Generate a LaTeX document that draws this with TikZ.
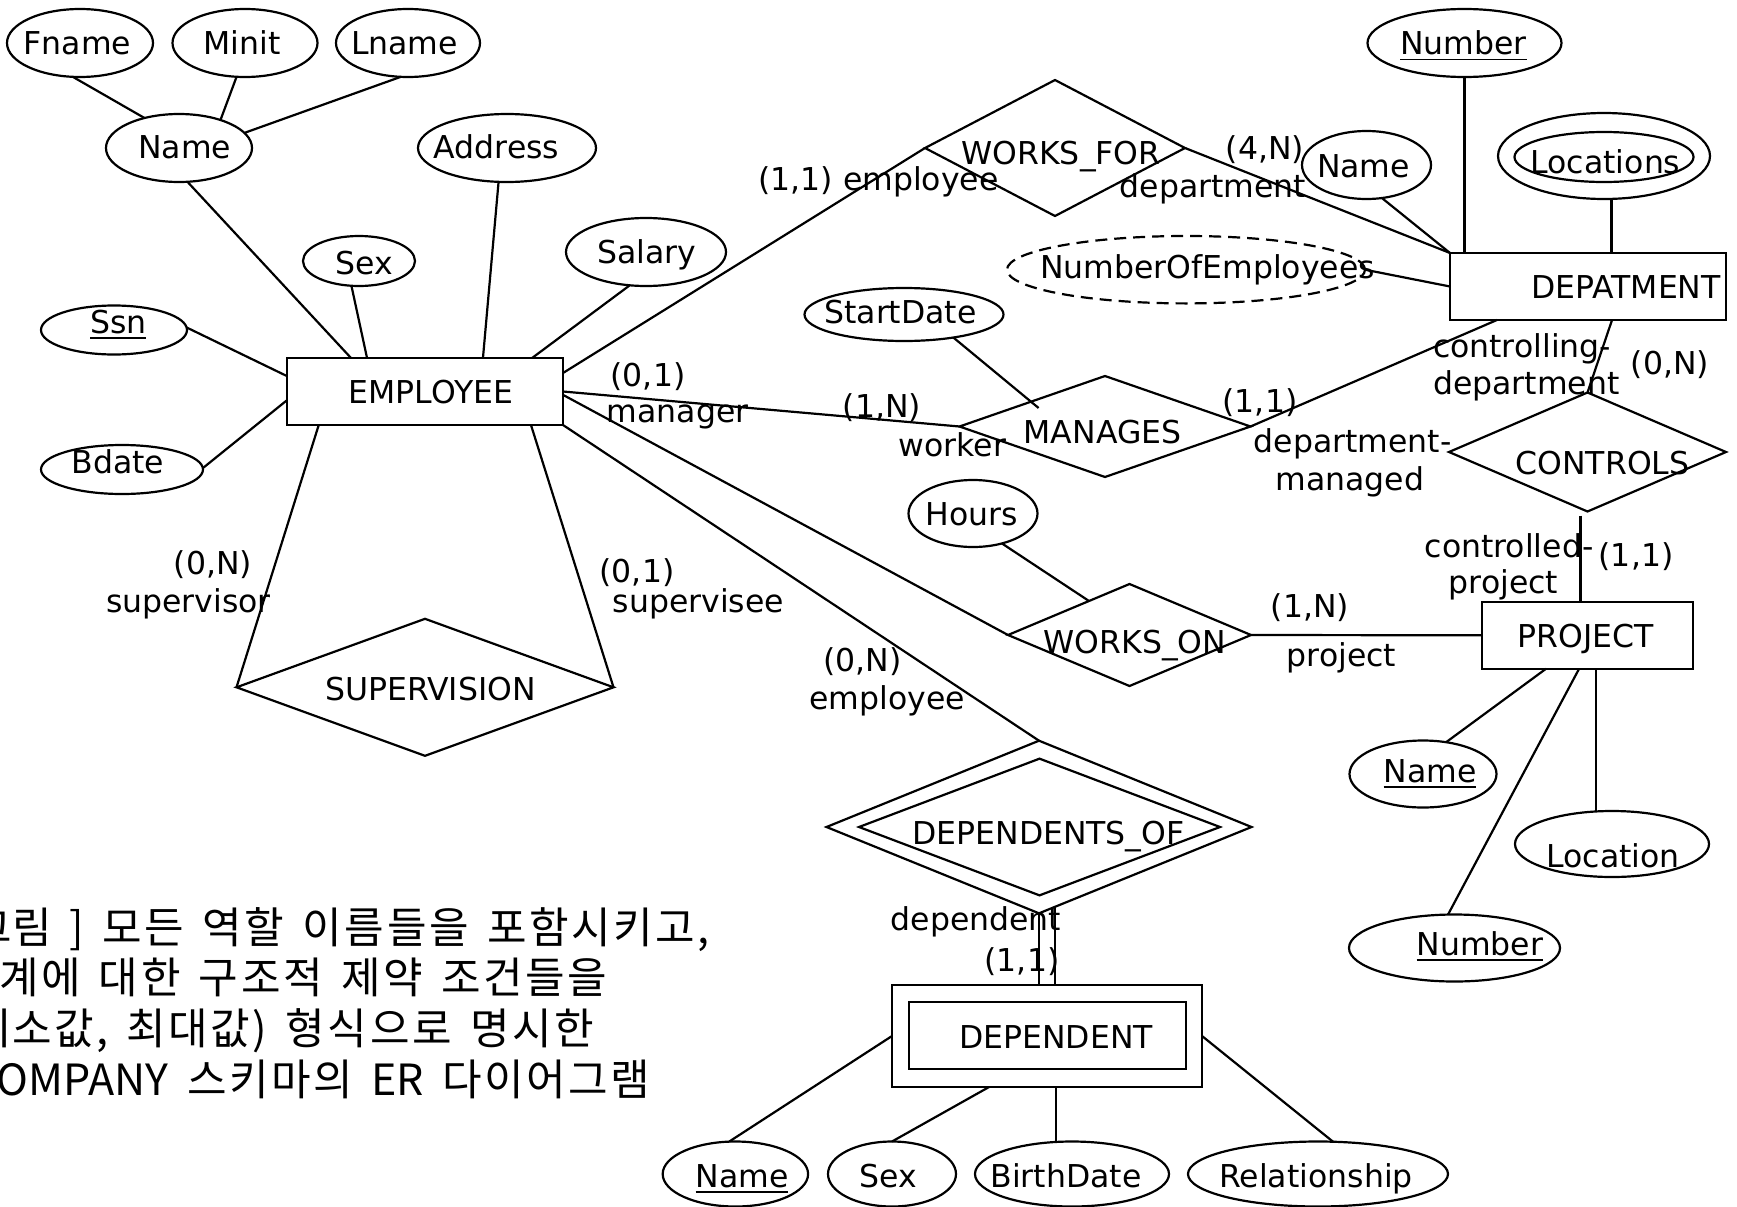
\documentclass[tikz,border=0pt]{standalone}
\usepackage{fontspec}
\setmainfont{DejaVu Sans}
\newfontfamily\cjkfont{Noto Sans CJK KR}[LetterSpace=6,WordSpace=1.5]
\usetikzlibrary{shapes.geometric,calc}

\newcommand\lblfont{\fontsize{31.5}{37}\selectfont}
\newcommand\capfont{\cjkfont\fontsize{43}{50}\selectfont}
% Latin words inside the caption are set without extra tracking
\newcommand\latinpart[1]{{\addfontfeature{LetterSpace=0}#1}}
% key attributes: text with a heavier underline
\newcommand\ulbox[1]{\setbox0\hbox{#1}\rlap{\rule[-5.5pt]{\wd0}{1.8pt}}\box0}

\begin{document}
\begin{tikzpicture}[x=1pt,y=-1pt,
  every node/.style={inner sep=0pt,outer sep=0pt},
  shp/.style={draw,line width=2.2pt},
  ent/.style 2 args={shp,rectangle,minimum width=#1,minimum height=#2},
  att/.style 2 args={shp,ellipse,minimum width=#1,minimum height=#2},
  rel/.style 2 args={shp,diamond,minimum width=#1,minimum height=#2},
  lbl/.style={font=\lblfont,anchor=base},
  captext/.style={font=\capfont,anchor=base west},
  link/.style={line width=2.2pt}]
\useasboundingbox (0,0) rectangle (1737,1207);

% ---------- EMPLOYEE and its attributes ----------
\node[ent={276}{67}] (emp) at (425,391.5) {};
\node[lbl] (empT) at (431,403) {EMPLOYEE};
\node[att={146}{68}] (fname) at (80,43) {};
\node[lbl] (fnameT) at (77.5,55) {Fname};
\node[att={145}{68}] (minit) at (245,43) {};
\node[lbl] (minitT) at (242,55) {Minit};
\node[att={144}{68}] (lname) at (408,43) {};
\node[lbl] (lnameT) at (404.6,55) {Lname};
\node[att={146}{68}] (ename) at (179,148) {};
\node[lbl] (enameT) at (184.6,158) {Name};
\node[att={178}{68}] (addr) at (507,148) {};
\node[lbl] (addrT) at (496.5,158) {Address};
\node[att={112}{50}] (esex) at (359,261) {};
\node[lbl] (esexT) at (364.3,274) {Sex};
\node[att={160}{68}] (salary) at (646,252) {};
\node[lbl] (salaryT) at (647,263) {Salary};
\node[att={146}{49}] (ssn) at (114,330) {};
\node[lbl] (ssnT) at (118.3,333) {\ulbox{Ssn}};
\node[att={162}{49}] (bdate) at (122,469.5) {};
\node[lbl] (bdateT) at (118,473) {Bdate};

% ---------- SUPERVISION ----------
\node[rel={377}{137}] (superv) at (425,687.3) {};
\node[lbl] (supervT) at (430.5,700) {SUPERVISION};
\node[lbl] (r0NsupT) at (213,574) {(0,N)};
\node[lbl] (supvrT) at (188.5,612) {supervisor};
\node[lbl] (r01seeT) at (637,582) {(0,1)};
\node[lbl] (supveeT) at (698.5,612) {supervisee};

% ---------- WORKS_FOR ----------
\node[rel={260}{136}] (wf) at (1055,148) {};
\node[lbl] (wfT) at (1061,164) {WORKS\textunderscore FOR};
\node[lbl] (wfempT) at (878.5,190) {(1,1) employee};
\node[lbl] (wf4NT) at (1265,159) {(4,N)};
\node[lbl] (wfdepT) at (1213,197) {department};

% ---------- DEPARTMENT ----------
\node[ent={276}{67}] (dept) at (1588,286.5) {};
\node[lbl] (deptT) at (1626,298) {DEPATMENT};
\node[att={194}{68}] (dnum) at (1464.5,43) {};
\node[lbl] (dnumT) at (1463.5,55) {\ulbox{Number}};
\node[att={129}{68}] (dname) at (1366.5,165) {};
\node[lbl] (dnameT) at (1363.5,177) {Name};
\node[att={212}{86}] (locout) at (1604,156) {};
\node[att={179}{50}] (locin) at (1604,157) {};
\node[lbl] (locT) at (1605.5,173) {Locations};
\node[att={358}{67.4},dash pattern=on 12pt off 7pt] (noe) at (1186,269.7) {};
\node[lbl] (noeT) at (1207.5,278) {NumberOfEmployees};

% ---------- MANAGES ----------
\node[att={199}{53}] (sdate) at (904,314.5) {};
\node[lbl] (sdateT) at (900.5,323) {StartDate};
\node[rel={291}{101}] (mgs) at (1105,426.5) {};
\node[lbl] (mgsT) at (1102.5,443) {MANAGES};
\node[lbl] (m01T) at (648,386) {(0,1)};
\node[lbl] (mgrT) at (677.6,422) {manager};
\node[lbl] (m1NT) at (882,417) {(1,N)};
\node[lbl] (wkrT) at (952.5,456) {worker};
\node[lbl] (m11T) at (1260,412) {(1,1)};
\node[lbl] (dmgdaT) at (1352.5,452) {department-};
\node[lbl] (dmgdbT) at (1350,490) {managed};

% ---------- CONTROLS ----------
\node[rel={277}{119}] (ctrl) at (1587.5,452) {};
\node[lbl] (ctrlT) at (1602.5,474.6) {CONTROLS};
\node[lbl,anchor=base west] (cdaT) at (1433,357) {controlling-};
\node[lbl,anchor=base west] (cdbT) at (1433,394) {department};
\node[lbl] (c0NT) at (1670,374) {(0,N)};
\node[lbl] (cpaT) at (1509,557) {controlled-};
\node[lbl] (cpbT) at (1503.5,593) {project};
\node[lbl] (c11T) at (1636,566) {(1,1)};

% ---------- WORKS_ON and PROJECT ----------
\node[att={129}{67}] (hours) at (973,513.5) {};
\node[lbl] (hoursT) at (972,525) {Hours};
\node[rel={243}{102}] (wo) at (1129.5,635) {};
\node[lbl] (woT) at (1135,653) {WORKS\textunderscore ON};
\node[lbl] (w1NT) at (1310,617) {(1,N)};
\node[lbl] (wprjT) at (1341.5,666) {project};
\node[ent={211}{67}] (proj) at (1587.5,635.3) {};
\node[lbl] (projT) at (1586,647) {PROJECT};
\node[att={147}{67}] (pname) at (1423,774) {};
\node[lbl] (pnameT) at (1430,782.6) {\ulbox{Name}};
\node[att={194}{66}] (ploc) at (1612,844) {};
\node[lbl] (plocT) at (1613,867) {Location};
\node[att={211}{67}] (pnum) at (1454.5,948) {};
\node[lbl] (pnumT) at (1480,955) {\ulbox{Number}};

% ---------- DEPENDENTS_OF and DEPENDENT ----------
\node[lbl] (d0NT) at (862.5,671) {(0,N)};
\node[lbl] (demplT) at (887,709) {employee};
\node[rel={425}{172.6}] (depof) at (1039,827) {};
\node[rel={361}{136.7}] (depofin) at (1039.5,827) {};
\node[lbl] (depofT) at (1048.5,844) {DEPENDENTS\textunderscore OF};
\node[lbl] (ddepT) at (976,930.7) {dependent};
\node[lbl] (d11T) at (1022,971) {(1,1)};
\node[ent={310}{102}] (dep) at (1047,1036) {};
\node[ent={277}{67}] (depin) at (1047.5,1035.5) {};
\node[lbl] (depT) at (1056,1048) {DEPENDENT};
\node[att={145.4}{65}] (dpname) at (735.4,1174) {};
\node[lbl] (dpnameT) at (742,1187) {\ulbox{Name}};
\node[att={128}{65}] (dpsex) at (892,1174) {};
\node[lbl] (dpsexT) at (888,1187) {Sex};
\node[att={194}{65}] (dpbirth) at (1072,1174) {};
\node[lbl] (dpbirthT) at (1066,1187) {BirthDate};
\node[att={260}{65}] (dprel) at (1318,1174) {};
\node[lbl] (dprelT) at (1316,1187) {Relationship};

% ---------- caption ----------
\node[captext] (capA) at (12,943) {\llap{그}림 ] 모든 역할 이름들을 포함시키고,};
\node[captext] (capB) at (-1,993) {계에 대한 구조적 제약 조건들을};
\node[captext] (capC) at (12,1044) {\llap{최}소값, 최대값) 형식으로 명시한};
\node[captext] (capD) at (-3,1095) {\latinpart{OMPANY} 스키마의 \latinpart{ER} 다이어그램};

% ---------- connectors ----------
\draw[link] (fname.-102) -- (ename.139);
\draw[link] (minit.-104) -- (ename.34);
\draw[link] (lname.-102) -- (ename.13);
\draw[link] (ename.-76) -- ($(emp.north west)!0.232!(emp.north east)$);
\draw[link] (esex.-107) -- ($(emp.north west)!0.29!(emp.north east)$);
\draw[link] (addr.-104) -- ($(emp.north west)!0.71!(emp.north east)$);
\draw[link] (salary.-116) -- ($(emp.north west)!0.888!(emp.north east)$);
\draw[link] (ssn.2) -- ($(emp.north west)!0.27!(emp.south west)$);
\draw[link] (bdate.1) -- ($(emp.north west)!0.63!(emp.south west)$);
\draw[link] ($(emp.north east)!0.224!(emp.south east)$) -- (wf.west);
\draw[link] (emp.east) -- (mgs.west);
\draw[link] ($(emp.north east)!0.55!(emp.south east)$) -- (wo.west);
\draw[link] (emp.south east) -- (depof.north);
\draw[link] ($(emp.south west)!0.115!(emp.south east)$) -- (superv.west);
\draw[link] ($(emp.south west)!0.884!(emp.south east)$) -- (superv.east);

\draw[link] (wf.east) -- (dept.north west);
\draw[link] (dname.-65) -- (dept.north west);
\draw[link] (dnum.south) -- (dnum.south |- dept.north);
\draw[link] (locout.-80) -- (locout.-80 |- dept.north);
\draw[link] (noe.east) -- (dept.west);
\draw[link] (mgs.east) -- ($(dept.south west)!0.17!(dept.south east)$);
\draw[link] ($(dept.south west)!0.587!(dept.south east)$) -- (ctrl.north);
\draw[link] ($(ctrl.south)+(-7,4)$) coordinate (cpt) -- (cpt |- proj.north);

\draw[link] (sdate.-25) -- ($(mgs.center)+(-66.4,-18.5)$);
\draw[link] (hours.-46) -- (wo.140);
\draw[link] (wo.east) -- (proj.west);
\draw[link] ($(proj.south west)!0.303!(proj.south east)$) -- (pname.54);
\draw[link] ($(proj.south west)!0.46!(proj.south east)$) -- (pnum.101);
\draw[link] ($(proj.south west)!0.54!(proj.south east)$) coordinate (plt) -- (plt |- ploc.north);

\draw[link] (depof.south) -- (depof.south |- dep.north);
\draw[link] ($(depof.south)+(16,-6.5)$) coordinate (drt) -- (drt |- dep.north);
\draw[link] (dep.west) -- (dpname.101);
\draw[link] ($(dep.south west)!0.313!(dep.south east)$) -- (dpsex.north);
\draw[link] ($(dep.south west)!0.528!(dep.south east)$) coordinate (dbt) -- (dbt |- dpbirth.north);
\draw[link] (dep.east) -- (dprel.65);
\end{tikzpicture}
\end{document}
